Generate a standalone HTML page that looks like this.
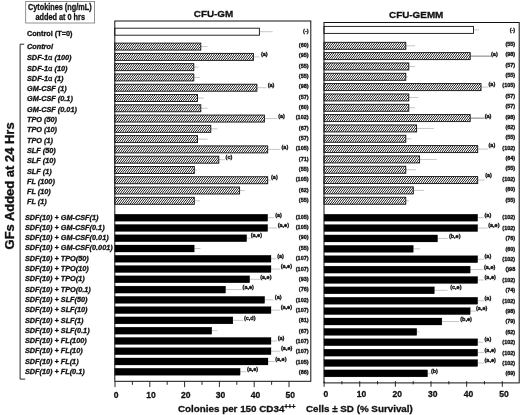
<!DOCTYPE html>
<html lang="en"><head><meta charset="utf-8"><title>CFU-GM / CFU-GEMM survival</title>
<style>
html,body{margin:0;padding:0;background:#fff;}
body{width:520px;height:415px;overflow:hidden;}
svg{display:block;}
svg text{font-family:"Liberation Sans", Arial, Helvetica, sans-serif;font-weight:bold;fill:#111;stroke:#111;stroke-width:0.3;}
.err{stroke:#999;stroke-width:0.55;}
.wb{fill:#fff;stroke:#111;stroke-width:0.9;}
.hb{fill:url(#hatch);stroke:#111;stroke-width:0.9;}
.bb{fill:#000;stroke:#000;stroke-width:0.25;}
.frame{fill:none;stroke:#111;stroke-width:1;}
.tick{stroke:#111;stroke-width:0.9;}
.sm{fill:#111;stroke:#111;stroke-width:0.32;}
.err2{stroke:#444;stroke-width:0.7;}
</style></head><body>
<svg width="520" height="415" viewBox="0 0 520 415">
<defs><linearGradient id="hatch" gradientUnits="userSpaceOnUse" x1="0" y1="0" x2="1.403" y2="1.057" spreadMethod="repeat">
<stop offset="0" stop-color="#1e1e1e"/><stop offset="0.04" stop-color="#232323"/><stop offset="0.08" stop-color="#303030"/><stop offset="0.12" stop-color="#464646"/><stop offset="0.17" stop-color="#616161"/><stop offset="0.21" stop-color="#828282"/><stop offset="0.25" stop-color="#a5a5a5"/><stop offset="0.29" stop-color="#c8c8c8"/><stop offset="0.33" stop-color="#e8e8e8"/><stop offset="0.38" stop-color="#ffffff"/><stop offset="0.42" stop-color="#ffffff"/><stop offset="0.46" stop-color="#ffffff"/><stop offset="0.5" stop-color="#ffffff"/><stop offset="0.54" stop-color="#ffffff"/><stop offset="0.58" stop-color="#ffffff"/><stop offset="0.62" stop-color="#ffffff"/><stop offset="0.67" stop-color="#e9e9e9"/><stop offset="0.71" stop-color="#c8c8c8"/><stop offset="0.75" stop-color="#a5a5a5"/><stop offset="0.79" stop-color="#828282"/><stop offset="0.83" stop-color="#616161"/><stop offset="0.88" stop-color="#464646"/><stop offset="0.92" stop-color="#303030"/><stop offset="0.96" stop-color="#232323"/><stop offset="1" stop-color="#1e1e1e"/>
</linearGradient></defs>
<rect x="0" y="0" width="520" height="415" fill="#fff"/>
<rect x="25.7" y="1.5" width="68.9" height="21.5" fill="#fff" stroke="#777" stroke-width="0.8"/>
<text x="59.8" y="10" font-size="8.7" text-anchor="middle" textLength="63.6" lengthAdjust="spacingAndGlyphs">Cytokines (ng/mL)</text>
<text x="60.2" y="20.4" font-size="8.7" text-anchor="middle" textLength="49.6" lengthAdjust="spacingAndGlyphs">added at 0 hrs</text>
<text x="213.5" y="16.9" font-size="9.9" text-anchor="middle">CFU-GM</text>
<text x="416.2" y="17.9" font-size="9.9" text-anchor="middle">CFU-GEMM</text>
<text x="26.9" y="36.2" font-size="7.3" text-anchor="start">Control (T=0)</text>
<text x="27" y="49" font-size="7.3" text-anchor="start" font-style="italic">Control</text>
<text x="27" y="60.2" font-size="7.3" text-anchor="start" font-style="italic">SDF-1<tspan font-weight="normal" font-style="normal" font-size="7.6">α</tspan> (100)</text>
<text x="27" y="70.5" font-size="7.3" text-anchor="start" font-style="italic">SDF-1<tspan font-weight="normal" font-style="normal" font-size="7.6">α</tspan> (10)</text>
<text x="27" y="80.8" font-size="7.3" text-anchor="start" font-style="italic">SDF-1<tspan font-weight="normal" font-style="normal" font-size="7.6">α</tspan> (1)</text>
<text x="27" y="91.1" font-size="7.3" text-anchor="start" font-style="italic">GM-CSF (1)</text>
<text x="27" y="101.4" font-size="7.3" text-anchor="start" font-style="italic">GM-CSF (0.1)</text>
<text x="27" y="111.7" font-size="7.3" text-anchor="start" font-style="italic">GM-CSF (0.01)</text>
<text x="27" y="122" font-size="7.3" text-anchor="start" font-style="italic">TPO (50)</text>
<text x="27" y="132.3" font-size="7.3" text-anchor="start" font-style="italic">TPO (10)</text>
<text x="27" y="142.6" font-size="7.3" text-anchor="start" font-style="italic">TPO (1)</text>
<text x="27" y="152.9" font-size="7.3" text-anchor="start" font-style="italic">SLF (50)</text>
<text x="27" y="163.2" font-size="7.3" text-anchor="start" font-style="italic">SLF (10)</text>
<text x="27" y="173.5" font-size="7.3" text-anchor="start" font-style="italic">SLF (1)</text>
<text x="27" y="183.8" font-size="7.3" text-anchor="start" font-style="italic">FL (100)</text>
<text x="27" y="194.1" font-size="7.3" text-anchor="start" font-style="italic">FL (10)</text>
<text x="27" y="204.4" font-size="7.3" text-anchor="start" font-style="italic">FL (1)</text>
<text x="24.9" y="219.6" font-size="7.3" text-anchor="start" font-style="italic">SDF(10) + GM-CSF(1)</text>
<text x="24.9" y="229.89" font-size="7.3" text-anchor="start" font-style="italic">SDF(10) + GM-CSF(0.1)</text>
<text x="24.9" y="240.18" font-size="7.3" text-anchor="start" font-style="italic">SDF(10) + GM-CSF(0.01)</text>
<text x="24.9" y="250.47" font-size="7.3" text-anchor="start" font-style="italic">SDF(10) + GM-CSF(0.001)</text>
<text x="24.9" y="260.76" font-size="7.3" text-anchor="start" font-style="italic">SDF(10) + TPO(50)</text>
<text x="24.9" y="271.05" font-size="7.3" text-anchor="start" font-style="italic">SDF(10) + TPO(10)</text>
<text x="24.9" y="281.34" font-size="7.3" text-anchor="start" font-style="italic">SDF(10) + TPO(1)</text>
<text x="24.9" y="291.63" font-size="7.3" text-anchor="start" font-style="italic">SDF(10) + TPO(0.1)</text>
<text x="24.9" y="301.92" font-size="7.3" text-anchor="start" font-style="italic">SDF(10) + SLF(50)</text>
<text x="24.9" y="312.21" font-size="7.3" text-anchor="start" font-style="italic">SDF(10) + SLF(10)</text>
<text x="24.9" y="322.5" font-size="7.3" text-anchor="start" font-style="italic">SDF(10) + SLF(1)</text>
<text x="24.9" y="332.79" font-size="7.3" text-anchor="start" font-style="italic">SDF(10) + SLF(0.1)</text>
<text x="24.9" y="343.08" font-size="7.3" text-anchor="start" font-style="italic">SDF(10) + FL(100)</text>
<text x="24.9" y="353.37" font-size="7.3" text-anchor="start" font-style="italic">SDF(10) + FL(10)</text>
<text x="24.9" y="363.66" font-size="7.3" text-anchor="start" font-style="italic">SDF(10) + FL(1)</text>
<text x="24.9" y="373.95" font-size="7.3" text-anchor="start" font-style="italic">SDF(10) + FL(0.1)</text>
<path d="M24.2 44.2 H20.1 V379.1 H25.2" fill="none" stroke="#111" stroke-width="0.9"/>
<text transform="translate(14.3 185.9) rotate(-90)" font-size="12.2" text-anchor="middle" textLength="127" lengthAdjust="spacingAndGlyphs">GFs Added at 24 Hrs</text>
<line x1="259.4" y1="31.7" x2="272.7" y2="31.7" class="err"/>
<rect x="114.8" y="28.2" width="144.6" height="7" class="wb"/>
<text x="308.6" y="32.95" font-size="5.5" text-anchor="end" class="sm">(-)</text>
<line x1="200.8" y1="46.6" x2="207.6" y2="46.6" class="err"/>
<rect x="114.8" y="43.1" width="86" height="7" class="hb"/>
<text x="308.6" y="46.95" font-size="5.5" text-anchor="end" class="sm">(60)</text>
<line x1="253.4" y1="56.88" x2="259.4" y2="56.88" class="err"/>
<rect x="114.8" y="53.38" width="138.6" height="7" class="hb"/>
<text x="260.9" y="56.13" font-size="5.5" text-anchor="start" class="sm">(a)</text>
<text x="308.6" y="57.29" font-size="5.5" text-anchor="end" class="sm">(95)</text>
<line x1="193.8" y1="67.16" x2="198.8" y2="67.16" class="err"/>
<rect x="114.8" y="63.66" width="79" height="7" class="hb"/>
<text x="308.6" y="67.63" font-size="5.5" text-anchor="end" class="sm">(55)</text>
<line x1="193.8" y1="77.44" x2="200" y2="77.44" class="err"/>
<rect x="114.8" y="73.94" width="79" height="7" class="hb"/>
<text x="308.6" y="77.97" font-size="5.5" text-anchor="end" class="sm">(55)</text>
<line x1="256.9" y1="87.72" x2="266.5" y2="87.72" class="err"/>
<rect x="114.8" y="84.22" width="142.1" height="7" class="hb"/>
<text x="267.7" y="86.97" font-size="5.5" text-anchor="start" class="sm">(a)</text>
<text x="308.6" y="88.31" font-size="5.5" text-anchor="end" class="sm">(98)</text>
<line x1="197.5" y1="98" x2="203.8" y2="98" class="err"/>
<rect x="114.8" y="94.5" width="82.7" height="7" class="hb"/>
<text x="308.6" y="98.65" font-size="5.5" text-anchor="end" class="sm">(57)</text>
<line x1="200.8" y1="108.28" x2="207.6" y2="108.28" class="err"/>
<rect x="114.8" y="104.78" width="86" height="7" class="hb"/>
<text x="308.6" y="108.99" font-size="5.5" text-anchor="end" class="sm">(60)</text>
<line x1="264.4" y1="118.56" x2="277.2" y2="118.56" class="err"/>
<rect x="114.8" y="115.06" width="149.6" height="7" class="hb"/>
<text x="278.2" y="117.81" font-size="5.5" text-anchor="start" class="sm">(a)</text>
<text x="308.6" y="119.33" font-size="5.5" text-anchor="end" class="sm">(102)</text>
<line x1="210.8" y1="128.84" x2="217.6" y2="128.84" class="err"/>
<rect x="114.8" y="125.34" width="96" height="7" class="hb"/>
<text x="308.6" y="129.67" font-size="5.5" text-anchor="end" class="sm">(67)</text>
<line x1="197.5" y1="139.12" x2="207.6" y2="139.12" class="err"/>
<rect x="114.8" y="135.62" width="82.7" height="7" class="hb"/>
<text x="308.6" y="140.01" font-size="5.5" text-anchor="end" class="sm">(57)</text>
<line x1="267.7" y1="149.4" x2="280.2" y2="149.4" class="err"/>
<rect x="114.8" y="145.9" width="152.9" height="7" class="hb"/>
<text x="281.5" y="148.65" font-size="5.5" text-anchor="start" class="sm">(a)</text>
<text x="308.6" y="150.35" font-size="5.5" text-anchor="end" class="sm">(105)</text>
<line x1="218.8" y1="159.68" x2="225.1" y2="159.68" class="err"/>
<rect x="114.8" y="156.18" width="104" height="7" class="hb"/>
<text x="225.6" y="158.93" font-size="5.5" text-anchor="start" class="sm">(c)</text>
<text x="308.6" y="160.69" font-size="5.5" text-anchor="end" class="sm">(71)</text>
<line x1="194.3" y1="169.96" x2="197" y2="169.96" class="err"/>
<rect x="114.8" y="166.46" width="79.5" height="7" class="hb"/>
<text x="308.6" y="171.03" font-size="5.5" text-anchor="end" class="sm">(55)</text>
<line x1="267.7" y1="180.24" x2="270.7" y2="180.24" class="err"/>
<rect x="114.8" y="176.74" width="152.9" height="7" class="hb"/>
<text x="271" y="179.49" font-size="5.5" text-anchor="start" class="sm">(a)</text>
<text x="308.6" y="181.37" font-size="5.5" text-anchor="end" class="sm">(105)</text>
<line x1="239.6" y1="190.52" x2="244.6" y2="190.52" class="err"/>
<rect x="114.8" y="187.02" width="124.8" height="7" class="hb"/>
<text x="308.6" y="191.71" font-size="5.5" text-anchor="end" class="sm">(62)</text>
<line x1="194.3" y1="200.8" x2="200" y2="200.8" class="err"/>
<rect x="114.8" y="197.3" width="79.5" height="7" class="hb"/>
<text x="308.6" y="202.05" font-size="5.5" text-anchor="end" class="sm">(55)</text>
<line x1="267.7" y1="217.7" x2="274" y2="217.7" class="err"/>
<rect x="114.8" y="214.2" width="152.9" height="7" class="bb"/>
<text x="275.2" y="216.95" font-size="5.5" text-anchor="start" class="sm">(a)</text>
<text x="308.6" y="218.75" font-size="5.5" text-anchor="end" class="sm">(105)</text>
<line x1="267.7" y1="227.97" x2="277.2" y2="227.97" class="err"/>
<rect x="114.8" y="224.47" width="152.9" height="7" class="bb"/>
<text x="277.7" y="227.22" font-size="5.5" text-anchor="start" class="sm">(a,e)</text>
<text x="308.6" y="229.1" font-size="5.5" text-anchor="end" class="sm">(105)</text>
<line x1="246.7" y1="238.24" x2="250.7" y2="238.24" class="err"/>
<rect x="114.8" y="234.74" width="131.9" height="7" class="bb"/>
<text x="250.7" y="237.49" font-size="5.5" text-anchor="start" class="sm">(a,e)</text>
<text x="308.6" y="239.45" font-size="5.5" text-anchor="end" class="sm">(90)</text>
<line x1="194.3" y1="248.51" x2="200.5" y2="248.51" class="err"/>
<rect x="114.8" y="245.01" width="79.5" height="7" class="bb"/>
<text x="308.6" y="249.8" font-size="5.5" text-anchor="end" class="sm">(55)</text>
<line x1="271" y1="258.78" x2="276.5" y2="258.78" class="err"/>
<rect x="114.8" y="255.28" width="156.2" height="7" class="bb"/>
<text x="277.2" y="258.03" font-size="5.5" text-anchor="start" class="sm">(a)</text>
<text x="308.6" y="260.15" font-size="5.5" text-anchor="end" class="sm">(107)</text>
<line x1="271" y1="269.05" x2="280.2" y2="269.05" class="err"/>
<rect x="114.8" y="265.55" width="156.2" height="7" class="bb"/>
<text x="280.7" y="268.3" font-size="5.5" text-anchor="start" class="sm">(a,e)</text>
<text x="308.6" y="270.5" font-size="5.5" text-anchor="end" class="sm">(107)</text>
<line x1="249.7" y1="279.32" x2="260.2" y2="279.32" class="err"/>
<rect x="114.8" y="275.82" width="134.9" height="7" class="bb"/>
<text x="260.2" y="278.57" font-size="5.5" text-anchor="start" class="sm">(a,e)</text>
<text x="308.6" y="280.85" font-size="5.5" text-anchor="end" class="sm">(93)</text>
<line x1="225.6" y1="289.59" x2="242.6" y2="289.59" class="err"/>
<rect x="114.8" y="286.09" width="110.8" height="7" class="bb"/>
<text x="242.6" y="288.84" font-size="5.5" text-anchor="start" class="sm">(a,e)</text>
<text x="308.6" y="291.2" font-size="5.5" text-anchor="end" class="sm">(76)</text>
<line x1="264.7" y1="299.86" x2="273.6" y2="299.86" class="err"/>
<rect x="114.8" y="296.36" width="149.9" height="7" class="bb"/>
<text x="274.8" y="299.11" font-size="5.5" text-anchor="start" class="sm">(a)</text>
<text x="308.6" y="301.55" font-size="5.5" text-anchor="end" class="sm">(102)</text>
<line x1="271" y1="310.13" x2="280.2" y2="310.13" class="err"/>
<rect x="114.8" y="306.63" width="156.2" height="7" class="bb"/>
<text x="280.7" y="309.38" font-size="5.5" text-anchor="start" class="sm">(a,e)</text>
<text x="308.6" y="311.9" font-size="5.5" text-anchor="end" class="sm">(107)</text>
<line x1="232.9" y1="320.4" x2="243.1" y2="320.4" class="err"/>
<rect x="114.8" y="316.9" width="118.1" height="7" class="bb"/>
<text x="243.9" y="319.65" font-size="5.5" text-anchor="start" class="sm">(c,d)</text>
<text x="308.6" y="322.25" font-size="5.5" text-anchor="end" class="sm">(81)</text>
<line x1="211.8" y1="330.67" x2="217.6" y2="330.67" class="err"/>
<rect x="114.8" y="327.17" width="97" height="7" class="bb"/>
<text x="308.6" y="332.6" font-size="5.5" text-anchor="end" class="sm">(67)</text>
<line x1="271" y1="340.94" x2="277" y2="340.94" class="err"/>
<rect x="114.8" y="337.44" width="156.2" height="7" class="bb"/>
<text x="277.7" y="340.19" font-size="5.5" text-anchor="start" class="sm">(a)</text>
<text x="308.6" y="342.95" font-size="5.5" text-anchor="end" class="sm">(107)</text>
<line x1="271" y1="351.21" x2="280.2" y2="351.21" class="err"/>
<rect x="114.8" y="347.71" width="156.2" height="7" class="bb"/>
<text x="281" y="350.46" font-size="5.5" text-anchor="start" class="sm">(a,e)</text>
<text x="308.6" y="353.3" font-size="5.5" text-anchor="end" class="sm">(107)</text>
<line x1="268" y1="361.48" x2="274.7" y2="361.48" class="err"/>
<rect x="114.8" y="357.98" width="153.2" height="7" class="bb"/>
<text x="275.2" y="360.73" font-size="5.5" text-anchor="start" class="sm">(a,e)</text>
<text x="308.6" y="363.65" font-size="5.5" text-anchor="end" class="sm">(105)</text>
<line x1="240.1" y1="371.75" x2="246.4" y2="371.75" class="err"/>
<rect x="114.8" y="368.25" width="125.3" height="7" class="bb"/>
<text x="246.9" y="371" font-size="5.5" text-anchor="start" class="sm">(a,e)</text>
<text x="308.6" y="374" font-size="5.5" text-anchor="end" class="sm">(86)</text>
<rect x="114.8" y="21" width="196" height="360.3" class="frame"/>
<line x1="473.5" y1="29.9" x2="479" y2="29.9" class="err"/>
<rect x="324" y="26.4" width="149.5" height="7" class="wb"/>
<text x="515.2" y="32.25" font-size="5.5" text-anchor="end" class="sm">(-)</text>
<line x1="405.8" y1="45.8" x2="415.1" y2="45.8" class="err"/>
<rect x="324" y="42.3" width="81.8" height="7" class="hb"/>
<text x="515.2" y="45.95" font-size="5.5" text-anchor="end" class="sm">(55)</text>
<line x1="470.2" y1="56.13" x2="491" y2="56.13" class="err2"/>
<rect x="324" y="52.63" width="146.2" height="7" class="hb"/>
<text x="491" y="56.03" font-size="5.5" text-anchor="start" class="sm">(a)</text>
<text x="515.2" y="56.32" font-size="5.5" text-anchor="end" class="sm">(98)</text>
<line x1="408.8" y1="66.46" x2="415.1" y2="66.46" class="err"/>
<rect x="324" y="62.96" width="84.8" height="7" class="hb"/>
<text x="515.2" y="66.69" font-size="5.5" text-anchor="end" class="sm">(57)</text>
<line x1="405.8" y1="76.79" x2="408" y2="76.79" class="err"/>
<rect x="324" y="73.29" width="81.8" height="7" class="hb"/>
<text x="515.2" y="77.06" font-size="5.5" text-anchor="end" class="sm">(55)</text>
<line x1="481" y1="87.12" x2="488.2" y2="87.12" class="err"/>
<rect x="324" y="83.62" width="157" height="7" class="hb"/>
<text x="488.5" y="86.22" font-size="5.5" text-anchor="start" class="sm">(a)</text>
<text x="515.2" y="87.43" font-size="5.5" text-anchor="end" class="sm">(105)</text>
<line x1="408.8" y1="97.45" x2="418.3" y2="97.45" class="err"/>
<rect x="324" y="93.95" width="84.8" height="7" class="hb"/>
<text x="515.2" y="97.8" font-size="5.5" text-anchor="end" class="sm">(57)</text>
<line x1="408.8" y1="107.78" x2="415.1" y2="107.78" class="err"/>
<rect x="324" y="104.28" width="84.8" height="7" class="hb"/>
<text x="515.2" y="108.17" font-size="5.5" text-anchor="end" class="sm">(57)</text>
<line x1="470.2" y1="118.11" x2="484.7" y2="118.11" class="err2"/>
<rect x="324" y="114.61" width="146.2" height="7" class="hb"/>
<text x="484.7" y="118.01" font-size="5.5" text-anchor="start" class="sm">(a)</text>
<text x="515.2" y="118.54" font-size="5.5" text-anchor="end" class="sm">(98)</text>
<line x1="416.6" y1="128.44" x2="433.9" y2="128.44" class="err"/>
<rect x="324" y="124.94" width="92.6" height="7" class="hb"/>
<text x="515.2" y="128.91" font-size="5.5" text-anchor="end" class="sm">(62)</text>
<line x1="405.8" y1="138.77" x2="411.3" y2="138.77" class="err"/>
<rect x="324" y="135.27" width="81.8" height="7" class="hb"/>
<text x="515.2" y="139.28" font-size="5.5" text-anchor="end" class="sm">(55)</text>
<line x1="477.7" y1="149.1" x2="488.2" y2="149.1" class="err"/>
<rect x="324" y="145.6" width="153.7" height="7" class="hb"/>
<text x="488.5" y="147" font-size="5.5" text-anchor="start" class="sm">(a)</text>
<text x="515.2" y="149.65" font-size="5.5" text-anchor="end" class="sm">(102)</text>
<line x1="419.6" y1="159.43" x2="436.9" y2="159.43" class="err"/>
<rect x="324" y="155.93" width="95.6" height="7" class="hb"/>
<text x="515.2" y="160.02" font-size="5.5" text-anchor="end" class="sm">(64)</text>
<line x1="405.8" y1="169.76" x2="415.8" y2="169.76" class="err"/>
<rect x="324" y="166.26" width="81.8" height="7" class="hb"/>
<text x="515.2" y="170.39" font-size="5.5" text-anchor="end" class="sm">(55)</text>
<line x1="477.7" y1="180.09" x2="484.7" y2="180.09" class="err"/>
<rect x="324" y="176.59" width="153.7" height="7" class="hb"/>
<text x="485.2" y="176.59" font-size="5.5" text-anchor="start" class="sm">(a)</text>
<text x="515.2" y="180.76" font-size="5.5" text-anchor="end" class="sm">(102)</text>
<line x1="413.3" y1="190.42" x2="423.8" y2="190.42" class="err"/>
<rect x="324" y="186.92" width="89.3" height="7" class="hb"/>
<text x="515.2" y="191.13" font-size="5.5" text-anchor="end" class="sm">(60)</text>
<line x1="405.8" y1="200.75" x2="408.8" y2="200.75" class="err"/>
<rect x="324" y="197.25" width="81.8" height="7" class="hb"/>
<text x="515.2" y="201.5" font-size="5.5" text-anchor="end" class="sm">(55)</text>
<line x1="477.7" y1="217.7" x2="484" y2="217.7" class="err"/>
<rect x="324" y="214.2" width="153.7" height="7" class="bb"/>
<text x="484.5" y="216.8" font-size="5.5" text-anchor="start" class="sm">(a)</text>
<text x="515.2" y="219.45" font-size="5.5" text-anchor="end" class="sm">(102)</text>
<line x1="477.7" y1="228.08" x2="487.7" y2="228.08" class="err"/>
<rect x="324" y="224.58" width="153.7" height="7" class="bb"/>
<text x="488.2" y="227.18" font-size="5.5" text-anchor="start" class="sm">(a,e)</text>
<text x="515.2" y="229.84" font-size="5.5" text-anchor="end" class="sm">(102)</text>
<line x1="437.6" y1="238.46" x2="447.6" y2="238.46" class="err"/>
<rect x="324" y="234.96" width="113.6" height="7" class="bb"/>
<text x="448.9" y="237.56" font-size="5.5" text-anchor="start" class="sm">(b,e)</text>
<text x="515.2" y="240.23" font-size="5.5" text-anchor="end" class="sm">(76)</text>
<line x1="413.3" y1="248.84" x2="420" y2="248.84" class="err"/>
<rect x="324" y="245.34" width="89.3" height="7" class="bb"/>
<text x="515.2" y="250.62" font-size="5.5" text-anchor="end" class="sm">(60)</text>
<line x1="477.7" y1="259.22" x2="484" y2="259.22" class="err"/>
<rect x="324" y="255.72" width="153.7" height="7" class="bb"/>
<text x="484.5" y="258.32" font-size="5.5" text-anchor="start" class="sm">(a)</text>
<text x="515.2" y="261.01" font-size="5.5" text-anchor="end" class="sm">(102)</text>
<line x1="470.2" y1="269.6" x2="483.2" y2="269.6" class="err"/>
<rect x="324" y="266.1" width="146.2" height="7" class="bb"/>
<text x="484" y="268.7" font-size="5.5" text-anchor="start" class="sm">(a,e)</text>
<text x="515.2" y="271.4" font-size="5.5" text-anchor="end" class="sm">()98</text>
<line x1="477.7" y1="279.98" x2="484" y2="279.98" class="err"/>
<rect x="324" y="276.48" width="153.7" height="7" class="bb"/>
<text x="484.5" y="279.08" font-size="5.5" text-anchor="start" class="sm">(a,e)</text>
<text x="515.2" y="281.79" font-size="5.5" text-anchor="end" class="sm">(102)</text>
<line x1="434.4" y1="290.36" x2="447.6" y2="290.36" class="err"/>
<rect x="324" y="286.86" width="110.4" height="7" class="bb"/>
<text x="450.2" y="289.46" font-size="5.5" text-anchor="start" class="sm">(c,e)</text>
<text x="515.2" y="292.18" font-size="5.5" text-anchor="end" class="sm">(74)</text>
<line x1="477.7" y1="300.74" x2="484" y2="300.74" class="err"/>
<rect x="324" y="297.24" width="153.7" height="7" class="bb"/>
<text x="484.5" y="299.84" font-size="5.5" text-anchor="start" class="sm">(a)</text>
<text x="515.2" y="302.57" font-size="5.5" text-anchor="end" class="sm">(102)</text>
<line x1="470.2" y1="311.12" x2="476" y2="311.12" class="err"/>
<rect x="324" y="307.62" width="146.2" height="7" class="bb"/>
<text x="476" y="310.22" font-size="5.5" text-anchor="start" class="sm">(a,e)</text>
<text x="515.2" y="312.96" font-size="5.5" text-anchor="end" class="sm">(98)</text>
<line x1="441.9" y1="321.5" x2="459.4" y2="321.5" class="err"/>
<rect x="324" y="318" width="117.9" height="7" class="bb"/>
<text x="460.2" y="320.6" font-size="5.5" text-anchor="start" class="sm">(b,e)</text>
<text x="515.2" y="323.35" font-size="5.5" text-anchor="end" class="sm">(79)</text>
<line x1="416.8" y1="331.88" x2="419.6" y2="331.88" class="err"/>
<rect x="324" y="328.38" width="92.8" height="7" class="bb"/>
<text x="515.2" y="333.74" font-size="5.5" text-anchor="end" class="sm">(62)</text>
<line x1="477.7" y1="342.26" x2="483.2" y2="342.26" class="err"/>
<rect x="324" y="338.76" width="153.7" height="7" class="bb"/>
<text x="484.5" y="341.36" font-size="5.5" text-anchor="start" class="sm">(a)</text>
<text x="515.2" y="344.13" font-size="5.5" text-anchor="end" class="sm">(102)</text>
<line x1="477.7" y1="352.64" x2="484" y2="352.64" class="err"/>
<rect x="324" y="349.14" width="153.7" height="7" class="bb"/>
<text x="484.5" y="351.74" font-size="5.5" text-anchor="start" class="sm">(a,e)</text>
<text x="515.2" y="354.52" font-size="5.5" text-anchor="end" class="sm">(102)</text>
<line x1="477.7" y1="363.02" x2="484" y2="363.02" class="err"/>
<rect x="324" y="359.52" width="153.7" height="7" class="bb"/>
<text x="484.5" y="362.12" font-size="5.5" text-anchor="start" class="sm">(a,e)</text>
<text x="515.2" y="364.91" font-size="5.5" text-anchor="end" class="sm">(102)</text>
<line x1="427.6" y1="373.4" x2="430.6" y2="373.4" class="err"/>
<rect x="324" y="369.9" width="103.6" height="7" class="bb"/>
<text x="430.9" y="372.5" font-size="5.5" text-anchor="start" class="sm">(b)</text>
<text x="515.2" y="375.3" font-size="5.5" text-anchor="end" class="sm">(69)</text>
<rect x="324" y="22.5" width="195.2" height="360.4" class="frame"/>
<line x1="115" y1="381.3" x2="115" y2="387.1" class="tick"/>
<text transform="translate(116.2 398.1) scale(0.93 1)" font-size="9.2" text-anchor="middle">0</text>
<line x1="132.4" y1="381.3" x2="132.4" y2="384.8" class="tick"/>
<line x1="149.8" y1="381.3" x2="149.8" y2="387.1" class="tick"/>
<text transform="translate(151 398.1) scale(0.93 1)" font-size="9.2" text-anchor="middle">10</text>
<line x1="167.2" y1="381.3" x2="167.2" y2="384.8" class="tick"/>
<line x1="184.6" y1="381.3" x2="184.6" y2="387.1" class="tick"/>
<text transform="translate(185.8 398.1) scale(0.93 1)" font-size="9.2" text-anchor="middle">20</text>
<line x1="202" y1="381.3" x2="202" y2="384.8" class="tick"/>
<line x1="219.4" y1="381.3" x2="219.4" y2="387.1" class="tick"/>
<text transform="translate(220.6 398.1) scale(0.93 1)" font-size="9.2" text-anchor="middle">30</text>
<line x1="236.8" y1="381.3" x2="236.8" y2="384.8" class="tick"/>
<line x1="254.2" y1="381.3" x2="254.2" y2="387.1" class="tick"/>
<text transform="translate(255.4 398.1) scale(0.93 1)" font-size="9.2" text-anchor="middle">40</text>
<line x1="271.6" y1="381.3" x2="271.6" y2="384.8" class="tick"/>
<line x1="289" y1="381.3" x2="289" y2="387.1" class="tick"/>
<text transform="translate(290.2 398.1) scale(0.93 1)" font-size="9.2" text-anchor="middle">50</text>
<line x1="324.1" y1="381.1" x2="324.1" y2="386.8" class="tick"/>
<text transform="translate(325.9 396.9) scale(0.93 1)" font-size="9.2" text-anchor="middle">0</text>
<line x1="341.92" y1="381.1" x2="341.92" y2="384.4" class="tick"/>
<line x1="359.74" y1="381.1" x2="359.74" y2="386.8" class="tick"/>
<text transform="translate(361.54 396.9) scale(0.93 1)" font-size="9.2" text-anchor="middle">10</text>
<line x1="377.56" y1="381.1" x2="377.56" y2="384.4" class="tick"/>
<line x1="395.38" y1="381.1" x2="395.38" y2="386.8" class="tick"/>
<text transform="translate(397.18 396.9) scale(0.93 1)" font-size="9.2" text-anchor="middle">20</text>
<line x1="413.2" y1="381.1" x2="413.2" y2="384.4" class="tick"/>
<line x1="431.02" y1="381.1" x2="431.02" y2="386.8" class="tick"/>
<text transform="translate(432.82 396.9) scale(0.93 1)" font-size="9.2" text-anchor="middle">30</text>
<line x1="448.84" y1="381.1" x2="448.84" y2="384.4" class="tick"/>
<line x1="466.66" y1="381.1" x2="466.66" y2="386.8" class="tick"/>
<text transform="translate(468.46 396.9) scale(0.93 1)" font-size="9.2" text-anchor="middle">40</text>
<line x1="484.48" y1="381.1" x2="484.48" y2="384.4" class="tick"/>
<line x1="502.3" y1="381.1" x2="502.3" y2="386.8" class="tick"/>
<text transform="translate(504.1 396.9) scale(0.93 1)" font-size="9.2" text-anchor="middle">50</text>
<text x="178.0" y="412.2" font-size="9.82">Colonies per 150 CD34<tspan font-size="6.4" dy="-3.2">+++</tspan></text>
<text x="306" y="412.2" font-size="9.82" text-anchor="start">Cells ± SD (% Survival)</text>
</svg></body></html>
